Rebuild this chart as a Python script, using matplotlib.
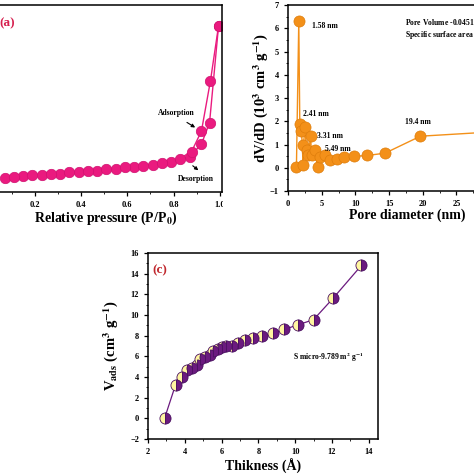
import numpy as np
import matplotlib
matplotlib.use('Agg')
import matplotlib.pyplot as plt
from matplotlib.ticker import MultipleLocator
from matplotlib.patches import Rectangle

plt.rcParams['font.family'] = 'Liberation Serif'
plt.rcParams['font.weight'] = 'bold'
plt.rcParams['mathtext.fontset'] = 'stix'
plt.rcParams['mathtext.default'] = 'bf'
plt.rcParams['axes.linewidth'] = 1.1

# (a) N2 isotherm
ads_p = [0.109, 0.189, 0.269, 0.349, 0.429, 0.509, 0.589, 0.669, 0.749, 0.826, 0.878, 0.921, 0.960, 0.995]
ads_v = [2.90, 3.18, 3.46, 3.69, 3.93, 4.31, 4.68, 4.96, 5.34, 6.27, 7.54, 11.42, 20.84, 31.13]
des_p = [0.070, 0.150, 0.230, 0.310, 0.390, 0.470, 0.550, 0.630, 0.710, 0.790, 0.870, 0.921, 0.956, 0.995]
des_v = [2.71, 3.00, 3.24, 3.46, 3.69, 4.02, 4.36, 4.68, 5.05, 5.62, 6.55, 8.99, 12.97, 31.13]

# (b) pore size distribution
pore_d = [1.25, 1.6, 1.75, 2.0, 2.25, 2.3, 2.5, 2.75, 3.0, 3.35, 3.5, 4.0, 4.4, 4.75,
          5.5, 6.25, 7.25, 8.25, 9.75, 11.75, 14.4, 19.65, 30.0]
dvdd = [0.03, 6.33, 1.9, 1.6, 0.14, 0.97, 1.75, 0.75, 0.53, 1.35, 0.53, 0.77, 0.03, 0.46,
        0.53, 0.34, 0.39, 0.46, 0.49, 0.53, 0.63, 1.36, 1.54]
peak_labels = ['1.58 nm', '2.41 nm', '3.31 nm', '5.49 nm', '19.4 nm']
peak_pos = [(3.56, 6.10), (2.3, 2.31), (4.25, 1.37), (5.5, 0.81), (17.4, 1.97)]

# (c) t-plot
thick = [2.9, 3.5, 3.85, 4.1, 4.4, 4.65, 4.85, 5.1, 5.35, 5.55, 5.8, 6.05, 6.25, 6.55,
         6.9, 7.3, 7.7, 8.2, 8.8, 9.4, 10.15, 11.0, 12.05, 13.6]
vads = [0.0, 3.25, 4.05, 4.7, 4.9, 5.2, 5.7, 5.95, 6.1, 6.5, 6.7, 6.95, 7.05, 7.05,
        7.3, 7.55, 7.75, 7.95, 8.25, 8.6, 9.05, 9.55, 11.6, 14.8]

fig = plt.figure(figsize=(4.74, 4.74), dpi=100)

# ---- panel (a)
ax1 = fig.add_axes([-0.0238, 0.5949, 0.4922, 0.3945])
pink = '#ea1a7f'
ax1.plot(des_p, des_v, '-o', color=pink, lw=1, ms=7.5, mfc=pink, mec='#d01270', mew=0.5)
ax1.plot(ads_p, ads_v, '-o', color=pink, lw=1, ms=7.5, mfc=pink, mec='#d01270', mew=0.5)
ax1.set_xlim(0, 1.01)
ax1.set_ylim(0, 35)
ax1.xaxis.set_minor_locator(MultipleLocator(0.1))
ax1.set_xticks([0.2, 0.4, 0.6, 0.8, 1.0])
ax1.set_xticklabels(['0.2', '0.4', '0.6', '0.8', '1.0'])
ax1.tick_params(labelsize=6, width=0.9, length=3)
ax1.tick_params(which='minor', length=1.5)
ax1.tick_params(axis='y', which='both', left=False, labelleft=False)
ax1.set_xlabel(r'Relative pressure (P/P$_0$)', fontsize=10, fontweight='bold')
ax1.xaxis.set_label_coords(0.5, -0.095)
ax1.text(0.044, 0.904, '(a)', transform=ax1.transAxes, fontsize=9.5, color='#d6204f',
         va='center')
ax1.annotate('', xy=(0.904, 11.8), xytext=(0.848, 13.3),
             arrowprops=dict(arrowstyle='-|>', color='black', lw=0.8, mutation_scale=5))
ax1.text(0.813, 14.8, 'Adsorption', fontsize=5.5, ha='center', va='center')
ax1.annotate('', xy=(0.917, 3.74), xytext=(0.874, 5.24),
             arrowprops=dict(arrowstyle='-|>', color='black', lw=0.8, mutation_scale=5))
ax1.text(0.895, 2.43, 'Desorption', fontsize=5.5, ha='center', va='center')

# ---- panel (b)
ax2 = fig.add_axes([0.6076, 0.597, 0.5046, 0.392])
orange = '#f39019'
ax2.plot(pore_d, dvdd, '-o', color=orange, lw=1, ms=8, mfc=orange, mec='#de7d0c', mew=0.5)
ax2.set_xlim(0, 35.5)
ax2.set_ylim(-1, 7)
ax2.xaxis.set_major_locator(MultipleLocator(5))
ax2.xaxis.set_minor_locator(MultipleLocator(2.5))
ax2.yaxis.set_major_locator(MultipleLocator(1))
ax2.yaxis.set_minor_locator(MultipleLocator(0.5))
ax2.tick_params(labelsize=6, width=0.9, length=3)
ax2.tick_params(which='minor', length=1.5)
ax2.set_xlabel('Pore diameter (nm)', fontsize=10, fontweight='bold')
ax2.xaxis.set_label_coords(0.5, -0.095)
ax2.set_ylabel(r'dV/dD (10$^3$ cm$^3$ g$^{-1}$)', fontsize=10.5, fontweight='bold')
ax2.yaxis.set_label_coords(-0.075, 0.5)
for lab, (px, py) in zip(peak_labels, peak_pos):
    ax2.text(px, py, lab, fontsize=5.5, ha='left', va='center')
ax2.text(0.49, 0.903, r'Pore Volume -0.0451 cm$^3$ g$^{-1}$', transform=ax2.transAxes,
         fontsize=5.5, va='center')
ax2.text(0.49, 0.839, r'Specific surface area -9.789 m$^2$ g$^{-1}$', transform=ax2.transAxes,
         fontsize=5.5, va='center')

# ---- panel (c)
ax3 = fig.add_axes([0.3122, 0.0738, 0.4852, 0.3924])
ax3.plot(thick, vads, '-', color='#6b1a7f', lw=0.9)
ax3.plot(thick, vads, 'o', ms=8, fillstyle='left', mfc='#fff6a0', mfcalt='#6b1a7f',
         mec='#4a1060', mew=0.6)
ax3.set_xlim(2, 14.5)
ax3.set_ylim(-2, 16)
ax3.xaxis.set_major_locator(MultipleLocator(2))
ax3.xaxis.set_minor_locator(MultipleLocator(1))
ax3.yaxis.set_major_locator(MultipleLocator(2))
ax3.yaxis.set_minor_locator(MultipleLocator(1))
ax3.tick_params(labelsize=6, width=0.9, length=3)
ax3.tick_params(which='minor', length=1.5)
ax3.set_xlabel('Thikness (Å)', fontsize=10, fontweight='bold')
ax3.xaxis.set_label_coords(0.5, -0.107)
ax3.set_ylabel(r'V$_{ads}$ (cm$^3$ g$^{-1}$)', fontsize=10.5, fontweight='bold')
ax3.yaxis.set_label_coords(-0.122, 0.5)
ax3.text(0.052, 0.909, '(c)', transform=ax3.transAxes, fontsize=9.5, color='#c0282e',
         ha='center', va='center')
ax3.text(0.63, 0.44, r'S micro-9.789 m$^2$ g$^{-1}$', transform=ax3.transAxes,
         fontsize=5.5, va='center')

# crop gap between the two top panels
fig.add_artist(Rectangle((223 / 474, 0.5), 15 / 474, 0.5, transform=fig.transFigure,
                         facecolor='white', edgecolor='none', zorder=10))

fig.savefig('out.png', dpi=100)
